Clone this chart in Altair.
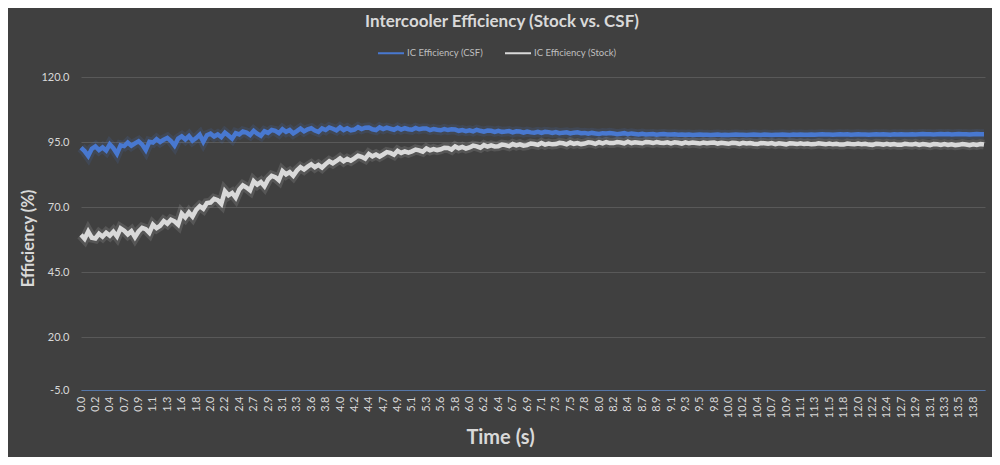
"""Intercooler efficiency over time, stock vs. CSF intercooler."""

import altair as alt
import pandas as pd

TITLE = "Intercooler Efficiency (Stock vs. CSF)"
SERIES = ["IC Efficiency (CSF)", "IC Efficiency (Stock)"]
COLORS = ["#4878d0", "#d9d9d9"]

# Category labels shown under the time axis (one every 10 samples in the log)
TIME_LABELS = [
    "0.0", "0.2", "0.4", "0.7", "0.9", "1.1", "1.3", "1.6", "1.8", "2.0",
    "2.2", "2.4", "2.7", "2.9", "3.1", "3.3", "3.6", "3.8", "4.0", "4.2",
    "4.4", "4.7", "4.9", "5.1", "5.3", "5.6", "5.8", "6.0", "6.2", "6.4",
    "6.7", "6.9", "7.1", "7.3", "7.5", "7.8", "8.0", "8.2", "8.4", "8.7",
    "8.9", "9.1", "9.3", "9.5", "9.8", "10.0", "10.2", "10.4", "10.7", "10.9",
    "11.1", "11.3", "11.5", "11.8", "12.0", "12.2", "12.4", "12.7", "12.9", "13.1",
    "13.3", "13.5", "13.8",
]
LABEL_STEP = 2 / 9          # seconds between labelled categories
SAMPLE_DT = LABEL_STEP / 4  # readings below are taken 4 per label step
X_MAX = 13.96
Y_TICKS = [-5, 20, 45, 70, 95, 120]

# Efficiency (%), 4 readings per label step
CSF_EFF = [
    92.8, 91.5, 89.6, 92.4, 93.3, 91.9, 92.9, 91.7,
    94.1, 92.6, 90.5, 93.7, 93.4, 94.8, 93.6, 94.5,
    95.3, 94.0, 91.9, 95.1, 94.8, 96.1, 95.0, 95.9,
    96.6, 95.4, 93.6, 96.3, 97.2, 96.0, 97.3, 95.5,
    96.5, 97.8, 95.1, 97.6, 98.2, 97.1, 97.9, 96.9,
    98.6, 97.5, 96.3, 98.4, 97.9, 99.0, 98.6, 97.7,
    99.3, 98.2, 97.4, 99.1, 98.5, 99.6, 99.3, 98.4,
    99.9, 98.9, 99.6, 98.3, 99.2, 100.2, 99.1, 99.9,
    100.3, 99.4, 98.9, 100.2, 99.6, 100.6, 100.1, 99.5,
    100.6, 99.6, 100.3, 99.5, 99.8, 100.7, 100.0, 100.5,
    100.6, 99.9, 99.6, 100.6, 100.0, 100.5, 100.1, 99.7,
    100.5, 99.8, 100.3, 99.9, 99.7, 100.4, 99.9, 100.2,
    100.2, 99.6, 100.0, 99.7, 99.5, 100.0, 99.6, 99.9,
    99.8, 99.3, 99.6, 99.2, 99.5, 99.1, 99.7, 99.3,
    99.0, 99.4, 99.3, 98.9, 99.3, 98.9, 99.0, 99.2,
    98.7, 99.1, 99.0, 98.6, 99.0, 98.7, 98.6, 98.9,
    98.5, 98.9, 98.8, 98.5, 98.8, 98.4, 98.6, 98.7,
    98.3, 98.6, 98.7, 98.4, 98.5, 98.2, 98.5, 98.3,
    98.1, 98.4, 98.3, 98.5, 98.3, 98.0, 98.2, 98.4,
    98.0, 98.3, 98.1, 97.9, 98.2, 97.9, 98.0, 98.1,
    97.8, 98.0, 98.1, 97.9, 97.9, 98.0, 97.8, 97.9,
    97.8, 97.9, 97.7, 97.8, 97.9, 97.8, 97.8, 97.7,
    97.8, 97.9, 97.7, 97.8, 97.7, 97.8, 97.9, 97.8,
    97.8, 97.7, 97.8, 97.9, 97.8, 97.7, 97.9, 97.8,
    97.7, 97.8, 97.8, 97.9, 97.8, 97.7, 97.9, 97.8,
    97.9, 97.8, 97.8, 97.9, 97.8, 97.9, 98.0, 97.9,
    97.9, 97.8, 97.9, 98.0, 97.9, 98.0, 97.8, 97.9,
    98.0, 97.9, 97.9, 97.8, 97.9, 98.0, 97.9, 98.0,
    97.9, 97.8, 98.0, 97.9, 98.0, 97.9, 97.9, 98.0,
    97.9, 98.0, 98.1, 98.0, 98.0, 97.9, 98.0, 98.1,
    98.0, 98.1, 97.9, 98.0, 98.1, 98.0, 98.0, 97.9,
    98.0, 98.1, 98.0, 98.0,
]

STOCK_EFF = [
    59.3, 57.8, 60.6, 58.2, 57.9, 59.7, 58.6, 60.1,
    59.0, 60.5, 58.7, 61.8, 60.9, 59.5, 60.7, 58.4,
    60.6, 62.0, 61.5, 60.1, 63.2, 61.9, 62.8, 64.6,
    63.6, 65.1, 64.5, 63.2, 67.5, 66.0, 67.9, 66.3,
    68.9, 70.3, 69.3, 71.5, 71.7, 73.1, 72.6, 71.2,
    76.1, 74.5, 75.4, 73.6, 76.7, 78.3, 77.5, 76.4,
    79.9, 78.6, 79.6, 78.0, 80.6, 82.0, 81.5, 80.3,
    83.8, 82.5, 83.4, 82.0, 84.0, 85.3, 84.4, 85.5,
    86.4, 85.3, 86.2, 85.2, 86.5, 87.6, 86.8, 87.7,
    88.7, 87.6, 88.5, 87.8, 88.7, 89.7, 89.3, 88.6,
    90.4, 89.5, 90.2, 89.4, 90.2, 91.1, 90.8, 90.1,
    91.6, 90.8, 91.4, 90.9, 91.4, 92.1, 91.8, 91.3,
    92.5, 91.8, 92.3, 91.9, 92.2, 92.8, 92.7, 92.1,
    93.3, 92.6, 93.1, 92.5, 92.9, 93.6, 93.3, 92.8,
    93.8, 93.2, 93.7, 93.3, 93.4, 94.0, 93.8, 93.4,
    94.2, 93.7, 94.1, 93.6, 93.8, 94.4, 94.2, 93.9,
    94.6, 94.0, 94.4, 94.1, 94.2, 94.7, 94.5, 94.1,
    94.8, 94.3, 94.6, 94.2, 94.4, 94.9, 94.7, 94.3,
    94.9, 94.5, 95.0, 94.6, 94.6, 95.0, 94.8, 94.5,
    95.1, 94.6, 94.9, 94.7, 94.5, 95.0, 94.9, 94.6,
    95.0, 94.7, 94.6, 94.9, 94.5, 94.9, 94.7, 94.4,
    94.9, 94.5, 94.8, 94.6, 94.4, 94.8, 94.5, 94.7,
    94.8, 94.4, 94.7, 94.5, 94.3, 94.7, 94.6, 94.3,
    94.7, 94.4, 94.6, 94.3, 94.2, 94.6, 94.5, 94.3,
    94.6, 94.2, 94.5, 94.3, 94.1, 94.5, 94.4, 94.2,
    94.5, 94.2, 94.4, 94.1, 94.2, 94.5, 94.3, 94.1,
    94.4, 94.1, 94.3, 94.0, 94.0, 94.4, 94.2, 94.1,
    94.4, 94.1, 94.3, 94.0, 93.9, 94.3, 94.2, 94.0,
    94.3, 94.0, 94.2, 93.9, 93.9, 94.3, 94.1, 94.0,
    94.3, 93.9, 94.2, 94.0, 93.8, 94.2, 94.1, 93.9,
    94.2, 93.9, 94.1, 93.8, 93.9, 94.2, 94.0, 93.8,
    94.1, 93.9, 94.2, 94.0,
]

times = [round(i * SAMPLE_DT, 4) for i in range(len(CSF_EFF))]
df = pd.concat(
    [
        pd.DataFrame({"time": times, "eff": CSF_EFF, "series": SERIES[0]}),
        pd.DataFrame({"time": times, "eff": STOCK_EFF, "series": SERIES[1]}),
    ]
)

# Axis labels are the category strings, placed one per label step
label_array = "[" + ",".join(f"'{s}'" for s in TIME_LABELS) + "]"
x_axis = alt.Axis(
    values=[round(i * LABEL_STEP, 4) for i in range(len(TIME_LABELS))],
    labelExpr=f"{label_array}[round(datum.value / {LABEL_STEP})]",
    labelAngle=270,
    labelAlign="right",
    labelBaseline="middle",
    labelPadding=6,
    labelFont="Lato",
    labelFontSize=11,
    labelColor="#d9d9d9",
    labelOverlap=False,
    labelFlush=False,
    ticks=False,
    grid=False,
    domainColor="#5576a8",
    domainWidth=1.2,
    title="Time (s)",
    titleFont="Lato",
    titleFontSize=20,
    titleFontWeight="bold",
    titleColor="#d9d9d9",
    titleX=419,
    titleY=53,
    titleAlign="center",
    titleBaseline="alphabetic",
)

y_axis = alt.Axis(
    values=Y_TICKS,
    labelExpr="replace(format(datum.value, '.1f'), '\u2212', '-')",
    grid=True,
    gridColor="#595959",
    gridWidth=1,
    domain=False,
    ticks=False,
    labelPadding=12,
    labelFont="Lato",
    labelFontSize=11,
    labelColor="#d9d9d9",
    title="Efficiency (%)",
    titleFont="Lato",
    titleFontSize=16.5,
    titleFontWeight="bold",
    titleColor="#d9d9d9",
    titleAngle=270,
    titleX=-48,
    titleY=161,
    titleAlign="center",
    titleBaseline="alphabetic",
)

x_enc = alt.X("time:Q", scale=alt.Scale(domain=[0, X_MAX], nice=False, zero=False), axis=x_axis)
# The original's bottom band (-5 to 20) is drawn narrower than the others
y_enc = alt.Y(
    "eff:Q",
    scale=alt.Scale(domain=[-5, 20, 120], range=[313, 260, 0], nice=False),
    axis=y_axis,
)
color_enc = alt.Color(
    "series:N",
    scale=alt.Scale(domain=SERIES, range=COLORS),
    legend=alt.Legend(
        orient="none",
        legendX=296,
        legendY=-38,
        direction="horizontal",
        title=None,
        symbolType="stroke",
        symbolSize=676,
        symbolStrokeWidth=2,
        symbolOpacity=1,
        labelFont="Lato",
        labelFontSize=9.5,
        labelColor="#bfbfbf",
        labelOffset=2,
        columnPadding=18,
    ),
)

# Soft glow under each line, as in the spreadsheet original
glow = (
    alt.Chart(df)
    .mark_line(strokeWidth=10, opacity=0.15)
    .encode(x=x_enc, y=y_enc, color=color_enc)
)

lines = (
    alt.Chart(df)
    .mark_line(strokeWidth=4.5)
    .encode(x=x_enc, y=y_enc, color=color_enc)
)

chart = (
    alt.layer(glow, lines)
    .properties(
        width=904,
        height=313,
        autosize=alt.AutoSizeParams(type="none"),
        padding={"left": 73, "top": 69, "right": 7, "bottom": 67},
        background="#404040",
        title=alt.TitleParams(
            TITLE,
            font="Lato",
            fontSize=17,
            fontWeight="bold",
            color="#d9d9d9",
            anchor="middle",
            dx=-31,
            offset=8,
        ),
    )
    .configure_view(stroke=None)
)

chart.save("out.html", embed_options={"renderer": "svg", "actions": False})
